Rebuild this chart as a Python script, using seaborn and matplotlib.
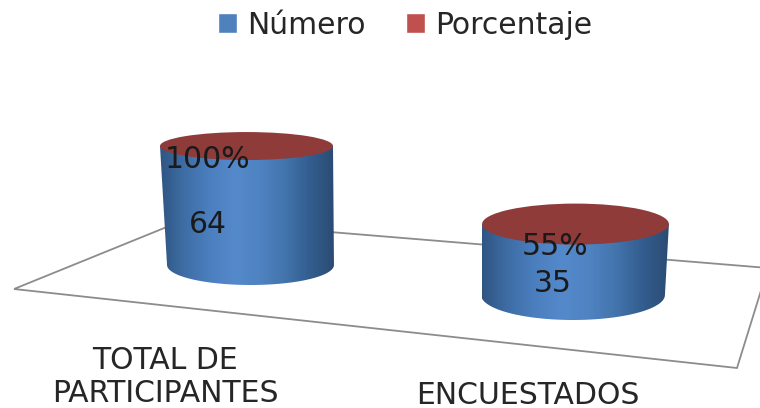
import numpy as np
import pandas as pd
import seaborn as sns
import matplotlib.pyplot as plt
from matplotlib.colors import LinearSegmentedColormap
from matplotlib.patches import Ellipse, Polygon

sns.set_theme(style="white")
plt.rcParams['font.family'] = ['DejaVu Sans']

# values
categorias = ["TOTAL DE\nPARTICIPANTES", "ENCUESTADOS"]
numero = [64, 35]
porcentaje = [1.00, 0.55]
series = ["Número", "Porcentaje"]

W, H = 760, 408
px_x = 329.0  # pixels per category
px_y = 1.83   # pixels per unit of value
x0, y0 = 246.5, 265.0  # pixel of first bar foot

df = pd.DataFrame({
    "categoria": categorias * 2,
    "valor": numero + porcentaje,
    "serie": [series[0]] * 2 + [series[1]] * 2,
})

fig = plt.figure(figsize=(W / 100, H / 100), dpi=100)
ax = fig.add_axes([0, 0, 1, 1])

ax = sns.barplot(data=df, x="categoria", y="valor", hue="serie", dodge=False,
                 width=173 / px_x, palette=["#4f81bd", "#c0504d"], saturation=1, ax=ax)

ax.set_xlim(-x0 / px_x, (W - x0) / px_x)
ax.set_ylim(-(H - y0) / px_y, y0 / px_y)


def frac(x, y):
    # picture pixel to axes fraction
    return x / W, 1 - y / H


# floor of the 3d chart
floor = [(14, 289), (184, 220), (768, 268), (737, 368)]
ax.add_patch(Polygon([frac(*p) for p in floor], closed=True, fill=False,
                     edgecolor="#8c8c8c", lw=1.3, transform=ax.transAxes, zorder=1))

cuerpo = LinearSegmentedColormap.from_list(
    "cuerpo", ["#2f5583", "#3f6ea6", "#4b7fbf", "#5489cb", "#4f83c2", "#4375ad", "#335e8f", "#2b4c73"])

# perspective per bar: foot shift, y scale, width scale, foot offset, foot narrowing,
# half height of the top and foot ellipses (in pixels)
foot_shift = [0, 30]
y_scale = [1.0, 1.09]
w_scale = [1.0, 1.08]
foot_dx = [4.0, -2.5]
foot_w = [0.965, 0.984]
top_rh = [14.0, 20.5]
foot_rh = [20.0, 25.0]

for i, (bar, top) in enumerate(zip(ax.containers[0], ax.containers[1])):
    bar.set_visible(False)
    top.set_visible(False)
    cx = bar.get_x() + bar.get_width() / 2
    w_top = bar.get_width() * w_scale[i]
    w_foot = w_top * foot_w[i]
    c_foot = cx + foot_dx[i] / px_x
    y_foot = -foot_shift[i] / px_y
    y_top = y_foot + (bar.get_height() + top.get_height()) * y_scale[i]
    rh_top = top_rh[i] / px_y
    rh_foot = foot_rh[i] / px_y

    t = np.linspace(np.pi, 2 * np.pi, 60)
    arc = np.column_stack([c_foot + w_foot / 2 * np.cos(t), y_foot + rh_foot * np.sin(t)])
    pts = np.vstack([[cx - w_top / 2, y_top], arc, [cx + w_top / 2, y_top]])
    body = Polygon(pts, closed=True, facecolor="none", edgecolor="none", zorder=2)
    ax.add_patch(body)

    grad = np.linspace(0, 1, 256).reshape(1, -1)
    im = ax.imshow(grad, cmap=cuerpo, aspect="auto", zorder=2, interpolation="bilinear",
                   extent=[cx - w_top / 2, cx + w_top / 2, y_foot - rh_foot, y_top])
    im.set_clip_path(body)

    ax.add_patch(Ellipse((cx, y_top), w_top, 2 * rh_top, facecolor="#8e3b39",
                         edgecolor="none", zorder=3))

ax.set_xlim(-x0 / px_x, (W - x0) / px_x)
ax.set_ylim(-(H - y0) / px_y, y0 / px_y)

# data labels
txt = dict(fontsize=21.5, color="#1a1a1a", ha="center", va="center",
           transform=ax.transAxes, zorder=5)
ax.text(*frac(208, 224), str(numero[0]), **txt)
ax.text(*frac(553, 283), str(numero[1]), **txt)
ax.text(*frac(207, 160), f"{porcentaje[0]:.0%}", **txt)
ax.text(*frac(555, 247), f"{porcentaje[1]:.0%}", **txt)

# category labels sit in front of the floor
lab = dict(fontsize=21.5, color="#262626", ha="center", va="center",
           transform=ax.transAxes, linespacing=1.17)
ax.text(*frac(165, 377), categorias[0], **lab)
ax.text(*frac(528, 395), categorias[1], **lab)

ax.set_xticks([])
ax.set_yticks([])
ax.set_xlabel("")
ax.set_ylabel("")
sns.despine(ax=ax, left=True, bottom=True)

sns.move_legend(ax, "upper center", bbox_to_anchor=(0.5329, 1.04), ncol=2, frameon=False,
                title=None, fontsize=21.5, handlelength=0.64, handleheight=0.64,
                handletextpad=0.33, columnspacing=1.37)

fig.savefig("out.png", dpi=100)
